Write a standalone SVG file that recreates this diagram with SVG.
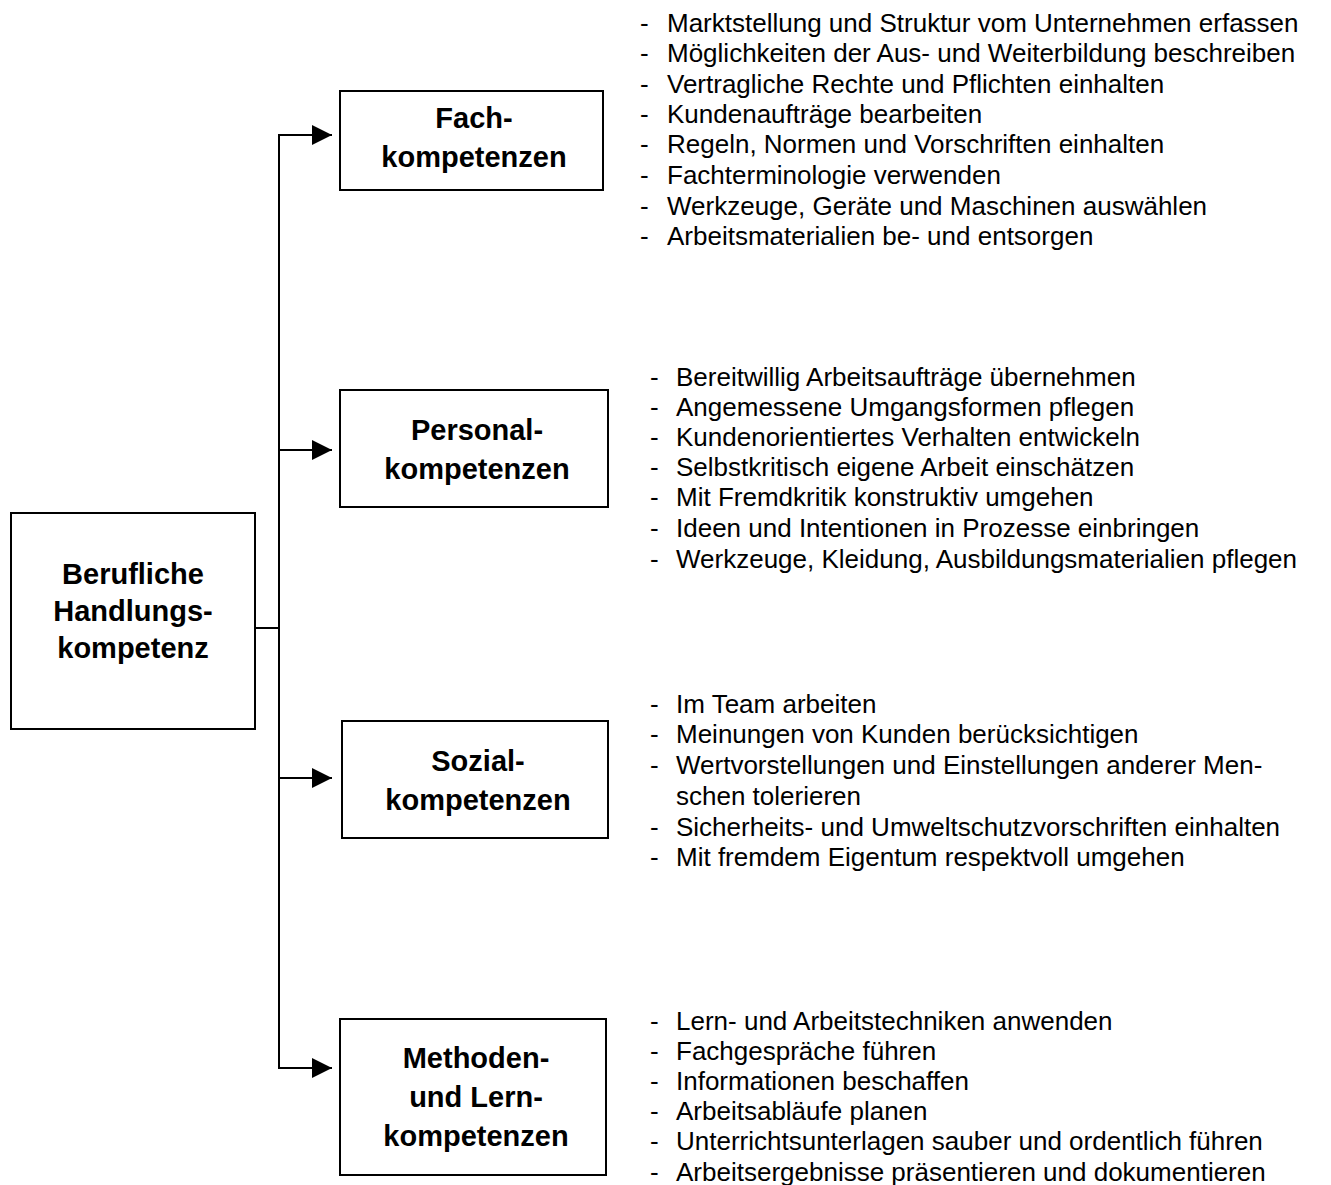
<svg xmlns="http://www.w3.org/2000/svg" width="1331" height="1185" viewBox="0 0 1331 1185">
  <defs>
    <marker id="arrow" viewBox="0 0 20 20" refX="20" refY="10" markerWidth="20" markerHeight="20" markerUnits="userSpaceOnUse" orient="auto">
      <path d="M0,0 L20,10 L0,20 Z" fill="#000"/>
    </marker>
    <style>
      .box { fill: #fff; stroke: #000; stroke-width: 2; }
      .title { font-family: "Liberation Sans", Arial, sans-serif; font-weight: bold; font-size: 29px; text-anchor: middle; fill: #000; }
      .item { font-family: "Liberation Sans", Arial, sans-serif; font-size: 26px; fill: #000; }
      .wire { fill: none; stroke: #000; stroke-width: 2; }
    </style>
  </defs>
  <rect width="1331" height="1185" fill="#fff"/>

  <!-- connectors: root to trunk, trunk to the four competence boxes -->
  <g id="connectors">
    <line class="wire" x1="255" y1="628" x2="279" y2="628"/>
    <line class="wire" x1="279" y1="135" x2="279" y2="1068"/>
    <line class="wire" x1="278" y1="135" x2="332" y2="135" marker-end="url(#arrow)"/>
    <line class="wire" x1="278" y1="450" x2="332" y2="450" marker-end="url(#arrow)"/>
    <line class="wire" x1="278" y1="778" x2="332" y2="778" marker-end="url(#arrow)"/>
    <line class="wire" x1="278" y1="1068" x2="332" y2="1068" marker-end="url(#arrow)"/>
  </g>

  <!-- root node -->
  <g id="node-handlungskompetenz">
    <rect class="box" x="11" y="513" width="244" height="216"/>
    <text class="title" x="133" y="584">Berufliche</text>
    <text class="title" x="133" y="621">Handlungs-</text>
    <text class="title" x="133" y="658">kompetenz</text>
  </g>

  <!-- competence boxes -->
  <g id="node-fach">
    <rect class="box" x="340" y="91" width="263" height="99"/>
    <text class="title" x="474" y="128">Fach-</text>
    <text class="title" x="474" y="167">kompetenzen</text>
  </g>
  <g id="node-personal">
    <rect class="box" x="340" y="390" width="268" height="117"/>
    <text class="title" x="477" y="440">Personal-</text>
    <text class="title" x="477" y="479">kompetenzen</text>
  </g>
  <g id="node-sozial">
    <rect class="box" x="342" y="721" width="266" height="117"/>
    <text class="title" x="478" y="771">Sozial-</text>
    <text class="title" x="478" y="810">kompetenzen</text>
  </g>
  <g id="node-methoden">
    <rect class="box" x="340" y="1019" width="266" height="156"/>
    <text class="title" x="476" y="1068">Methoden-</text>
    <text class="title" x="476" y="1107">und Lern-</text>
    <text class="title" x="476" y="1146">kompetenzen</text>
  </g>

  <!-- bullet lists -->
  <g id="list-fach" class="item">
    <text x="640" y="32">-</text><text x="667" y="32">Marktstellung und Struktur vom Unternehmen erfassen</text>
    <text x="640" y="62">-</text><text x="667" y="62">Möglichkeiten der Aus- und Weiterbildung beschreiben</text>
    <text x="640" y="93">-</text><text x="667" y="93">Vertragliche Rechte und Pflichten einhalten</text>
    <text x="640" y="123">-</text><text x="667" y="123">Kundenaufträge bearbeiten</text>
    <text x="640" y="153">-</text><text x="667" y="153">Regeln, Normen und Vorschriften einhalten</text>
    <text x="640" y="184">-</text><text x="667" y="184">Fachterminologie verwenden</text>
    <text x="640" y="215">-</text><text x="667" y="215">Werkzeuge, Geräte und Maschinen auswählen</text>
    <text x="640" y="245">-</text><text x="667" y="245">Arbeitsmaterialien be- und entsorgen</text>
  </g>
  <g id="list-personal" class="item">
    <text x="650" y="386">-</text><text x="676" y="386">Bereitwillig Arbeitsaufträge übernehmen</text>
    <text x="650" y="416">-</text><text x="676" y="416">Angemessene Umgangsformen pflegen</text>
    <text x="650" y="446">-</text><text x="676" y="446">Kundenorientiertes Verhalten entwickeln</text>
    <text x="650" y="476">-</text><text x="676" y="476">Selbstkritisch eigene Arbeit einschätzen</text>
    <text x="650" y="506">-</text><text x="676" y="506">Mit Fremdkritik konstruktiv umgehen</text>
    <text x="650" y="537">-</text><text x="676" y="537">Ideen und Intentionen in Prozesse einbringen</text>
    <text x="650" y="568">-</text><text x="676" y="568">Werkzeuge, Kleidung, Ausbildungsmaterialien pflegen</text>
  </g>
  <g id="list-sozial" class="item">
    <text x="650" y="713">-</text><text x="676" y="713">Im Team arbeiten</text>
    <text x="650" y="743">-</text><text x="676" y="743">Meinungen von Kunden berücksichtigen</text>
    <text x="650" y="774">-</text><text x="676" y="774">Wertvorstellungen und Einstellungen anderer Men-</text>
    <text x="676" y="805">schen tolerieren</text>
    <text x="650" y="836">-</text><text x="676" y="836">Sicherheits- und Umweltschutzvorschriften einhalten</text>
    <text x="650" y="866">-</text><text x="676" y="866">Mit fremdem Eigentum respektvoll umgehen</text>
  </g>
  <g id="list-methoden" class="item">
    <text x="650" y="1030">-</text><text x="676" y="1030">Lern- und Arbeitstechniken anwenden</text>
    <text x="650" y="1060">-</text><text x="676" y="1060">Fachgespräche führen</text>
    <text x="650" y="1090">-</text><text x="676" y="1090">Informationen beschaffen</text>
    <text x="650" y="1120">-</text><text x="676" y="1120">Arbeitsabläufe planen</text>
    <text x="650" y="1150">-</text><text x="676" y="1150">Unterrichtsunterlagen sauber und ordentlich führen</text>
    <text x="650" y="1181">-</text><text x="676" y="1181">Arbeitsergebnisse präsentieren und dokumentieren</text>
  </g>
</svg>
